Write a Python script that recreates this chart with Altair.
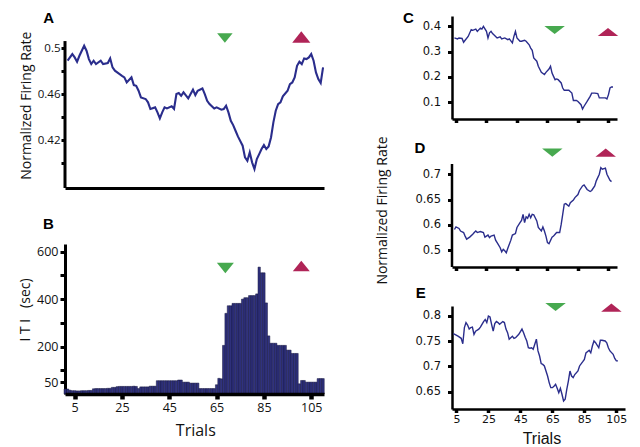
import altair as alt
import pandas as pd

# ---------------- Panel A: population normalized firing rate ----------------
a_trial = [2, 4, 5, 6, 7, 9, 10, 11, 12, 13, 14, 16, 17, 19, 20, 21, 22, 24, 25, 26,
           27, 29, 30, 31, 32, 33, 35, 36, 37, 39, 40, 41, 42, 43, 44, 46, 47, 48, 49, 50,
           51, 53, 54, 55, 56, 57, 59, 60, 61, 62, 64, 65, 67, 68, 69, 70, 71, 72, 73, 74,
           76, 77, 78, 79, 80, 81, 82, 83, 84, 85, 86, 87, 88, 89, 90, 91, 92, 93, 95, 96,
           97, 98, 99, 100, 101, 102, 103, 104, 105, 106, 107, 108, 109, 110]
a_rate = [0.489, 0.4948, 0.4919, 0.4881, 0.4933, 0.502, 0.4977, 0.4904, 0.4861, 0.489,
          0.4861, 0.489, 0.4861, 0.487, 0.491, 0.4832, 0.4803, 0.4774, 0.4759, 0.4745,
          0.4701, 0.4745, 0.4678, 0.4672, 0.4629, 0.4571, 0.4557, 0.4528, 0.447, 0.4484,
          0.4441, 0.4388, 0.4441, 0.4484, 0.4475, 0.4493, 0.447, 0.46, 0.4609, 0.4585,
          0.4615, 0.4562, 0.46, 0.4638, 0.4591, 0.4629, 0.4649, 0.46, 0.4542, 0.4513,
          0.4475, 0.4484, 0.4464, 0.447, 0.4499, 0.4441, 0.4368, 0.433, 0.4281, 0.4232,
          0.4151, 0.4049, 0.402, 0.4093, 0.4006, 0.3948, 0.4035, 0.4078, 0.4122, 0.4157,
          0.4122, 0.4145, 0.4223, 0.4354, 0.4455, 0.4513, 0.4528, 0.458, 0.4629, 0.4687,
          0.4701, 0.4745, 0.4846, 0.4881, 0.4861, 0.491, 0.4904, 0.4919, 0.4948, 0.489,
          0.4788, 0.473, 0.4696, 0.4832]

# ---------------- Panel B: inter-trial interval (sec) ----------------
b_trial = list(range(1, 111))
b_iti = [21, 21,
         16, 14, 14, 13, 13, 14, 14, 14, 15, 15,
         22, 23, 23, 23, 23, 23, 24, 24,
         28, 28,
         31, 32, 32, 32, 32, 32, 32, 33, 32,
         23,
         30, 30, 30, 30,
         33, 33, 33,
         56, 56, 56, 56, 56, 56, 56, 56, 56,
         59, 59,
         50, 50, 50,
         46, 46, 46, 46,
         23, 23, 23, 23, 23, 23, 23,
         39,
         66, 64,
         205, 340, 372, 372,
         382, 382, 382, 382,
         400, 406, 406,
         415, 415, 415, 422, 535, 511, 511, 384, 245,
         214, 214, 214,
         205, 205, 205, 205,
         185, 185,
         171, 171, 171,
         43, 57, 57,
         50, 50, 50, 50, 50,
         65, 65, 65]

# ---------------- Panel C ----------------
c_trial = [4, 6, 7, 9, 10, 11, 13, 15, 16, 18, 19, 21, 22, 23, 25, 26, 27, 28, 29, 31,
           32, 34, 35, 37, 39, 40, 42, 43, 44, 45, 47, 48, 50, 51, 53, 54, 55, 56, 58, 59,
           61, 63, 64, 66, 67, 68, 69, 70, 71, 72, 74, 75, 76, 77, 79, 81, 82, 84, 85, 87,
           88, 89, 91, 93, 94, 96, 98, 99, 101, 103, 104, 105, 106, 107, 108]
c_rate = [0.354, 0.350, 0.354, 0.352, 0.337, 0.345, 0.360, 0.387, 0.384, 0.389,
          0.380, 0.393, 0.389, 0.400, 0.380, 0.354, 0.374, 0.380, 0.371, 0.360,
          0.354, 0.358, 0.350, 0.354, 0.347, 0.350, 0.334, 0.360, 0.380, 0.354,
          0.341, 0.341, 0.345, 0.341, 0.327, 0.314, 0.305, 0.275, 0.262, 0.242,
          0.218, 0.209, 0.218, 0.231, 0.242, 0.215, 0.202, 0.189, 0.192, 0.189,
          0.176, 0.156, 0.147, 0.147, 0.147, 0.136, 0.107, 0.107, 0.103, 0.090,
          0.073, 0.084, 0.103, 0.123, 0.136, 0.136, 0.134, 0.117, 0.117, 0.117,
          0.113, 0.130, 0.156, 0.160, 0.160]

# ---------------- Panel D ----------------
d_trial = [4, 5, 7, 8, 10, 11, 12, 14, 16, 17, 18, 19, 21, 23, 24, 26, 27, 28, 30, 31,
           32, 34, 35, 36, 37, 38, 39, 41, 42, 44, 45, 47, 48, 49, 50, 51, 52, 53, 54, 55,
           56, 58, 59, 61, 62, 63, 64, 65, 66, 68, 69, 70, 71, 73, 74, 75, 76, 77, 79, 80,
           82, 83, 85, 86, 88, 89, 91, 93, 94, 96, 97, 99, 100, 101, 103, 104, 106, 107]
d_rate = [0.591, 0.596, 0.593, 0.588, 0.585, 0.578, 0.572, 0.576, 0.5815, 0.585,
          0.588, 0.585, 0.587, 0.585, 0.576, 0.580, 0.575, 0.578, 0.580, 0.570,
          0.565, 0.555, 0.547, 0.552, 0.549, 0.545, 0.554, 0.570, 0.580, 0.583,
          0.595, 0.6045, 0.609, 0.621, 0.6045, 0.616, 0.613, 0.621, 0.614, 0.621,
          0.620, 0.608, 0.595, 0.588, 0.596, 0.588, 0.578, 0.565, 0.563, 0.576,
          0.578, 0.5815, 0.585, 0.585, 0.601, 0.621, 0.641, 0.642, 0.637, 0.644,
          0.649, 0.654, 0.660, 0.668, 0.677, 0.679, 0.670, 0.666, 0.668, 0.677,
          0.687, 0.700, 0.713, 0.710, 0.712, 0.700, 0.688, 0.6855]

# ---------------- Panel E ----------------
e_trial = [3, 4, 6, 8, 9, 10, 11, 12, 13, 14, 15, 16, 17, 19, 20, 21, 22, 23, 24, 25,
           26, 27, 28, 29, 30, 31, 32, 34, 35, 36, 37, 38, 39, 40, 41, 42, 44, 46, 47, 48,
           49, 50, 51, 52, 53, 54, 55, 56, 57, 58, 59, 60, 61, 62, 63, 64, 65, 66, 67, 68,
           69, 70, 71, 72, 73, 74, 75, 76, 77, 78, 79, 81, 82, 84, 85, 86, 88, 89, 90, 91,
           92, 94, 95, 96, 98, 99, 100, 101, 103, 104, 105, 106]
e_rate = [0.765, 0.7637, 0.760, 0.7558, 0.745, 0.777, 0.787, 0.782, 0.774, 0.777,
          0.778, 0.7637, 0.770, 0.774, 0.778, 0.7835, 0.789, 0.793, 0.787, 0.800,
          0.798, 0.7835, 0.770, 0.785, 0.789, 0.787, 0.7835, 0.789, 0.787, 0.774,
          0.767, 0.754, 0.757, 0.760, 0.7558, 0.757, 0.7637, 0.774, 0.767, 0.758,
          0.7505, 0.737, 0.736, 0.737, 0.734, 0.744, 0.754, 0.7307, 0.7207, 0.7056,
          0.704, 0.701, 0.691, 0.681, 0.668, 0.658, 0.658, 0.661, 0.6646, 0.6567,
          0.648, 0.6567, 0.645, 0.6316, 0.635, 0.6547, 0.671, 0.691, 0.681, 0.678,
          0.684, 0.691, 0.701, 0.7095, 0.714, 0.727, 0.732, 0.727, 0.7406, 0.7505,
          0.747, 0.737, 0.7518, 0.7518, 0.7505, 0.747, 0.737, 0.7307, 0.724, 0.716,
          0.711, 0.711]

# event markers: trial at which the green (down) and red (up) triangles sit
a_events = [68.5, 100.8]
b_events = [68.7, 100.8]
c_events = [69.7, 104.7]
d_events = [68.2, 103.2]
e_events = [67.0, 101.9]

x_ticks = [5, 25, 45, 65, 85, 105]

LINE = "#2a2d8c"
BAR = "#30327f"
BAR_EDGE = "#15153c"
GREEN = "#47a94f"
RED = "#b02457"
LFONT = "Open Sans"
RFONT = "DejaVu Sans"

DOWN_L = "M-1,-0.62L1,-0.62L0,0.62Z"
UP_L = "M-1,0.62L1,0.62L0,-0.62Z"
DOWN_R = "M-1,-0.4L1,-0.4L0,0.4Z"
UP_R = "M-1,0.4L1,0.4L0,-0.4Z"


def tri(trial, shape, color, size, ypx, xscale, xaxis):
    return alt.Chart(pd.DataFrame({"trial": [trial]})).mark_point(
        shape=shape, filled=True, color=color, size=size, opacity=1, strokeWidth=0
    ).encode(x=alt.X("trial:Q", scale=xscale, axis=xaxis), y=alt.value(ypx))


def letter(txt, dx, dy):
    return alt.Chart(pd.DataFrame({"panel": [txt]})).mark_text(
        font="Liberation Sans", fontWeight="bold", fontSize=15, align="center",
        baseline="alphabetic", color="black"
    ).encode(text="panel:N", x=alt.value(dx), y=alt.value(dy))


# ---------------- A ----------------
xA = alt.Scale(domain=[0.9, 110.4], nice=False, zero=False)
yA = alt.Scale(domain=[0.3783, 0.5279], nice=False, zero=False)
axA_x = alt.Axis(title=None, labels=False, ticks=False, domainWidth=3)
axA_y = alt.Axis(
    values=[0.40, 0.42, 0.44, 0.46, 0.48, 0.50],
    labelExpr="datum.value > 0.495 ? '0.5' : (abs(datum.value - 0.46) < 0.001 ? '0.46' : (abs(datum.value - 0.42) < 0.001 ? '0.42' : ''))",
    tickSize=4, tickWidth=3, labelPadding=1, domain=False,
    labelFont=LFONT, labelFontSize=11.5,
    title="Normalized Firing Rate", titleFont=LFONT, titleFontSize=14,
    titleX=-39, titleY=89.2, titleBaseline="middle")
lineA = alt.Chart(pd.DataFrame({"trial": a_trial, "rate": a_rate})).mark_line(
    color=LINE, strokeWidth=2.1
).encode(
    x=alt.X("trial:Q", scale=xA, axis=axA_x),
    y=alt.Y("rate:Q", scale=yA, axis=axA_y),
)
axisLineA = alt.Chart(pd.DataFrame({"lo": [0.3783], "hi": [0.5061]})).mark_rule(
    color="black", strokeWidth=3
).encode(x=alt.value(0), y=alt.Y("lo:Q", scale=yA, axis=axA_y), y2="hi:Q")
chartA = alt.layer(
    lineA,
    axisLineA,
    tri(a_events[0], DOWN_L, GREEN, 240, 22, xA, axA_x),
    tri(a_events[1], UP_L, RED, 330, 21, xA, axA_x),
    letter("A", -16.3, 7),
).properties(width=259, height=172)

# ---------------- B ----------------
xB = alt.Scale(domain=[0.9, 110.4], nice=False, zero=False)
yB = alt.Scale(domain=[0, 632.4], nice=False, zero=False)
axB_x = alt.Axis(
    values=x_ticks, tickSize=5, tickWidth=4.5, labelPadding=2, domainWidth=3.5, zindex=1,
    labelFont=LFONT, labelFontSize=12.5,
    title="Trials", titleFont=LFONT, titleFontSize=16, titleX=130.3, titleY=41,
    titleBaseline="alphabetic")
axB_y = alt.Axis(
    values=[50, 100, 200, 300, 400, 500, 600],
    labelExpr="indexof([50, 200, 400, 600], datum.value) >= 0 ? datum.label : ''",
    tickSize=5, tickWidth=3, labelPadding=2, domainWidth=3,
    labelFont=LFONT, labelFontSize=12.5,
    title="I T I\u00a0\u00a0\u00a0(sec)", titleFont=LFONT, titleFontSize=14,
    titleX=-40, titleY=65.5, titleBaseline="middle")
barsB = alt.Chart(pd.DataFrame({"trial": b_trial, "iti": b_iti})).transform_calculate(
    left="datum.trial - 0.5", right="datum.trial + 0.5"
).mark_bar(color=BAR, stroke=BAR_EDGE, strokeWidth=0.5).encode(
    x=alt.X("left:Q", scale=xB, axis=axB_x),
    x2="right:Q",
    y=alt.Y("iti:Q", scale=yB, axis=axB_y),
    y2=alt.datum(0),
)
chartB = alt.layer(
    barsB,
    tri(b_events[0], DOWN_L, GREEN, 290, 24, xB, axB_x),
    tri(b_events[1], UP_L, RED, 290, 22, xB, axB_x),
    letter("B", -16.7, -14.7),
).properties(width=259, height=150)


# ---------------- C, D, E ----------------
def right_y_axis(values, label_expr, domain=True, title=None):
    kw = dict(values=values, labelExpr=label_expr, tickSize=4.5, tickWidth=3, labelPadding=7,
              domain=domain, domainWidth=2.5, labelFont=RFONT, labelFontSize=11.5)
    if title is None:
        kw["title"] = None
    else:
        kw.update(title=title, titleFont=LFONT, titleFontSize=14, titleX=-69.3, titleY=52,
                  titleBaseline="middle")
    return alt.Axis(**kw)


def right_x_axis(show_labels, title=None):
    kw = dict(values=x_ticks, tickSize=3.5, tickWidth=3.5, domainWidth=2.5)
    if show_labels:
        kw.update(labels=True, labelFont=RFONT, labelFontSize=11, labelPadding=1,
                  title=title, titleFont="Liberation Sans", titleFontSize=16, titleX=89.4,
                  titleY=34, titleBaseline="alphabetic")
    else:
        kw.update(labels=False, title=None)
    return alt.Axis(**kw)


xC = alt.Scale(domain=[2.4, 110.6], nice=False, zero=False)
yC = alt.Scale(domain=[0.0336, 0.4407], nice=False, zero=False)
axC_x = right_x_axis(False)
axC_y = right_y_axis([0.1, 0.2, 0.3, 0.4], "format(datum.value, '.1f')")
lineC = alt.Chart(pd.DataFrame({"trial": c_trial, "rate": c_rate})).mark_line(
    color=LINE, strokeWidth=1.4
).encode(
    x=alt.X("trial:Q", scale=xC, axis=axC_x),
    y=alt.Y("rate:Q", scale=yC, axis=axC_y),
)
chartC = alt.layer(
    lineC,
    tri(c_events[0], DOWN_R, GREEN, 420, 14, xC, axC_x),
    tri(c_events[1], UP_R, RED, 420, 16, xC, axC_x),
    letter("C", -43.7, 6.7),
).properties(width=165, height=103)

xD = alt.Scale(domain=[2.4, 110.6], nice=False, zero=False)
yD = alt.Scale(domain=[0.517, 0.7321], nice=False, zero=False)
axD_x = right_x_axis(False)
axD_y = right_y_axis(
    [0.55, 0.6, 0.65, 0.7],
    "datum.value < 0.57 ? '0.5' : (datum.value > 0.69 ? '0.7' : (datum.value > 0.64 ? '0.65' : '0.6'))",
    domain=False, title="Normalized Firing Rate")
lineD = alt.Chart(pd.DataFrame({"trial": d_trial, "rate": d_rate})).mark_line(
    color=LINE, strokeWidth=1.4
).encode(
    x=alt.X("trial:Q", scale=xD, axis=axD_x),
    y=alt.Y("rate:Q", scale=yD, axis=axD_y),
)
axisLineD = alt.Chart(pd.DataFrame({"lo": [0.517], "hi": [0.7203]})).mark_rule(
    color="black", strokeWidth=2.5
).encode(x=alt.value(0), y=alt.Y("lo:Q", scale=yD, axis=axD_y), y2="hi:Q")
chartD = alt.layer(
    lineD,
    axisLineD,
    tri(d_events[0], DOWN_R, GREEN, 420, -5.3, xD, axD_x),
    tri(d_events[1], UP_R, RED, 420, -5.3, xD, axD_x),
    letter("D", -32, -5.3),
).properties(width=165, height=109)

xE = alt.Scale(domain=[2.25, 110.4], nice=False, zero=False)
yE = alt.Scale(domain=[0.6157, 0.8198], nice=False, zero=False)
axE_x = right_x_axis(True, "Trials")
axE_y = right_y_axis(
    [0.65, 0.7, 0.75, 0.8],
    "datum.value > 0.79 ? '0.8' : (datum.value > 0.74 ? '0.75' : (datum.value > 0.69 ? '0.7' : '0.65'))")
lineE = alt.Chart(pd.DataFrame({"trial": e_trial, "rate": e_rate})).mark_line(
    color=LINE, strokeWidth=1.4
).encode(
    x=alt.X("trial:Q", scale=xE, axis=axE_x),
    y=alt.Y("rate:Q", scale=yE, axis=axE_y),
)
chartE = alt.layer(
    lineE,
    tri(e_events[0], DOWN_R, GREEN, 420, 1, xE, axE_x),
    tri(e_events[1], UP_R, RED, 420, 1.7, xE, axE_x),
    letter("E", -31.2, -8.3),
).properties(width=173, height=103)

left = alt.vconcat(chartA, chartB, spacing=56, bounds="flush")
right = alt.vconcat(chartC, chartD, chartE, spacing=39, bounds="flush")

chart = alt.hconcat(left, right, spacing=47).properties(
    padding={"left": 9, "top": 2, "right": 0, "bottom": 3}
).configure_view(stroke=None).configure_axis(
    grid=False, domainColor="black", tickColor="black", labelColor="#111111",
    titleColor="#111111", labelOverlap=False, labelFlush=False, titleFontWeight="normal"
)

chart.save("out.html", embed_options={"renderer": "svg", "actions": False})
